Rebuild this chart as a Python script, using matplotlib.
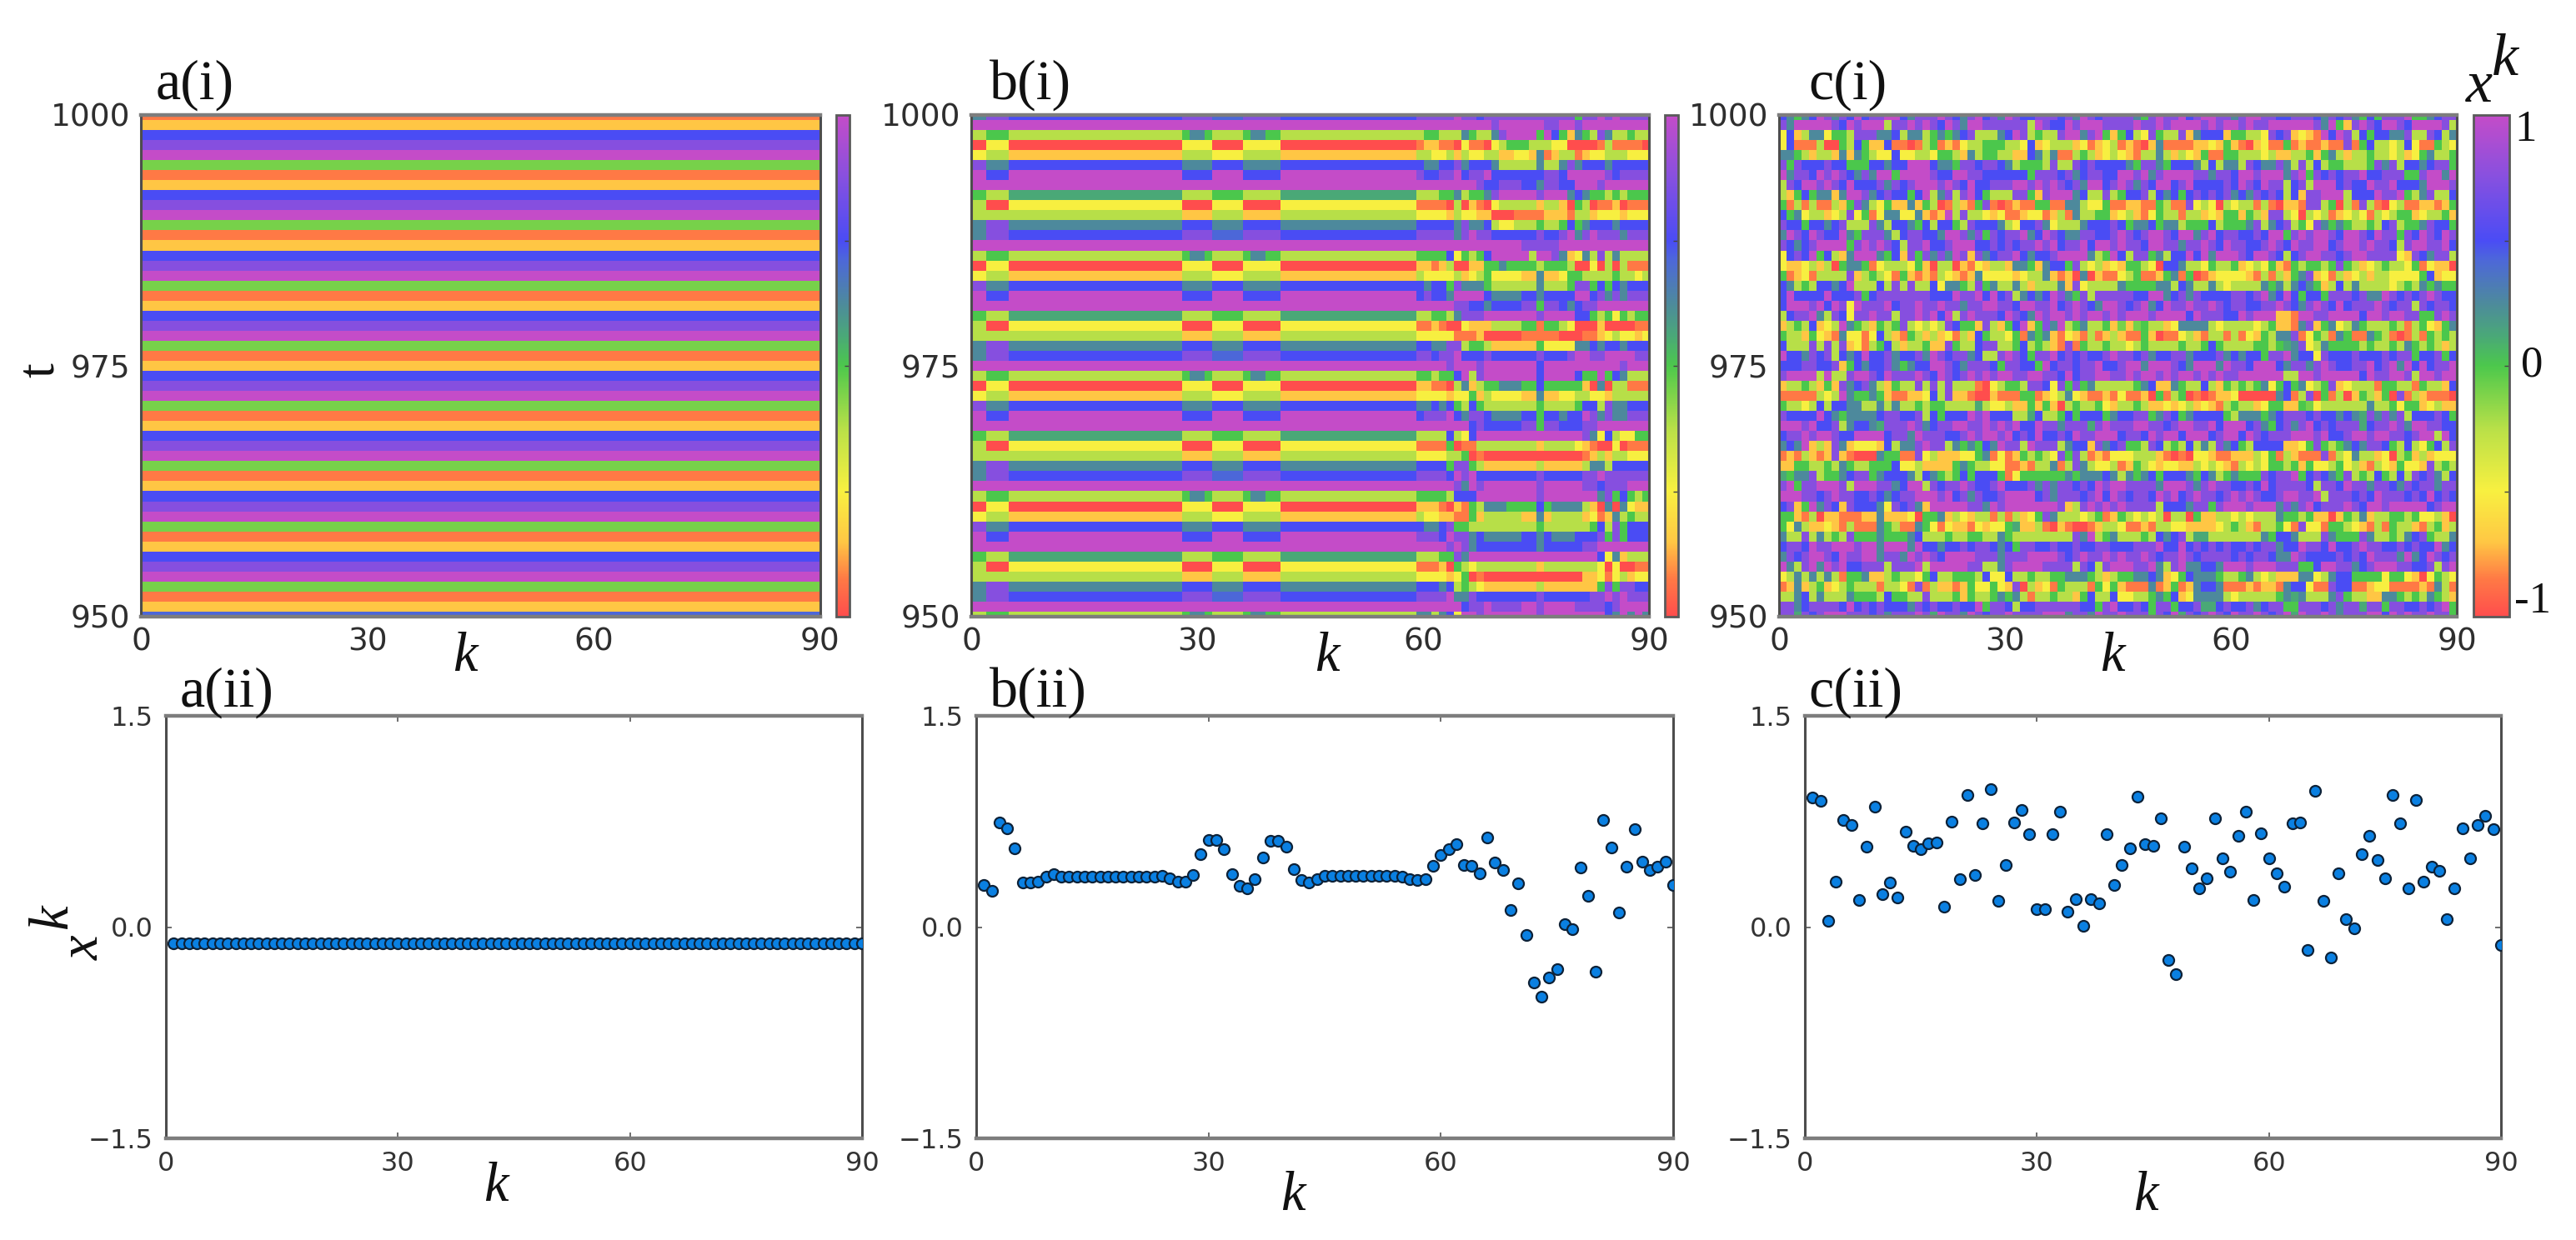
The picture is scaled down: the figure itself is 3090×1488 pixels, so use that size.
import numpy as np
import matplotlib
matplotlib.use('Agg')
import matplotlib.pyplot as plt
from matplotlib.colors import LinearSegmentedColormap


W, H = 3090, 1488

# colour levels used to note down the heatmap cells
levels = {'R': -1.0, 'O': -0.85, 'A': -0.7, 'Y': -0.5, 'L': -0.25, 'H': -0.1, 'G': 0.0,
          'S': 0.12, 'T': 0.25, 'C': 0.42, 'B': 0.5, 'P': 0.75, 'M': 1.0}

cmap_pos = [-1.0, -0.85, -0.7, -0.5, -0.25, 0.0, 0.12, 0.25, 0.42, 0.5, 0.75, 1.0]
cmap_col = ['#ff4d4d', '#ff7a45', '#ffc844', '#f8f040', '#b8e048', '#4cc84c',
            '#4aa878', '#4d8a9c', '#4d68d8', '#4a4cf5', '#8650e0', '#c44cc8']

x_ticks = [0, 30, 60, 90]
t_ticks = [950, 975, 1000]
t_labels = ['950', '975', '1000']
v_ticks = [-1.5, 0.0, 1.5]
v_labels = ['\u22121.5', '0.0', '1.5']

# a(i): every site the same, one column top to bottom
a_profile = 'OABPMHOABPMHOABPMHOABPMHOABPMHOABPMHOABPMHOABPMHOAC'

# b(i): k below 59 repeats every 12 rows
b_left = [
    'M' * 59,
    'LLGGG' + 'L' * 23 + 'GTTG' + 'LLLL' + 'GTTGG' + 'L' * 18,
    'RRYYY' + 'R' * 23 + 'YYYY' + 'RRRR' + 'YYYYY' + 'R' * 18,
    'YYLLL' + 'A' * 23 + 'LLLL' + 'YYYY' + 'LLLLL' + 'A' * 18,
    'PPTTT' + 'B' * 23 + 'TTTT' + 'BBBB' + 'TTTTT' + 'B' * 18,
    'MMBBB' + 'M' * 23 + 'BBBB' + 'MMMM' + 'BBBBB' + 'M' * 18,
    'M' * 59,
    'GGLLL' + 'S' * 23 + 'LLLL' + 'GGGG' + 'LLLLL' + 'S' * 18,
    'LLRRR' + 'Y' * 23 + 'RRRR' + 'YYYY' + 'RRRRR' + 'Y' * 18,
    'LLLLL' + 'L' * 23 + 'AAAA' + 'LLLL' + 'AAAAA' + 'L' * 18,
    'TTPPP' + 'T' * 23 + 'BBBB' + 'TTTT' + 'BBBBB' + 'T' * 18,
    'TTPPP' + 'B' * 23 + 'PPPP' + 'CCCC' + 'PPPPP' + 'B' * 18,
]

b_right = [
    'PPPPPMPPBPPPPPPPPPPPPGPPMPMPPPP',
    'MMMMMMMMMMPMMMMMMPPMMPMMMMMMMMM',
    'LGGLLLTGLLTPMMMMGMBGATGLPTLLGLL',
    'OAAOORYOORYLGGGLLLYYRRRROLOOOOR',
    'LLYYLALYYLLAAYYATOALLOAYYLLLYYY',
    'BTTBBPTBBBTLLLLLTLLTPTBBBTBBBBB',
    'PBBPPMBPPMBBBBBBBPPBMMMMMPBPPPP',
    'MMMMMMMMPBBPPPBBTPPBBMMMPMMMMMM',
    'LLLGGTLGGTPMMMMMPMMMTBTGGLGLGGG',
    'OOOORLRAORYLLLLLALLARGLROOAROOO',
    'YYYYALYYAARRROOOOAAAOLLAYYYAYYY',
    'BBBBBTPTTBLYYLLLGLLGBGTBBBTBBBB',
    'PPPPPTPMPPBBBBBBPBBPMTPMPPPTPPP',
    'MMMMMMMMMMMMMMPPPPPMMMMMMMMMMMM',
    'GGGGBYGLGBMMMMMLMMPTAYTLPLTLLLL',
    'AAOALRRAAGGTGGGGLGGGLRRYRLRLOOO',
    'LYYYYLAYLGYYYYAATAAYGGLLLLGLLYL',
    'BTBBGPTTTGLLLLLLTLLLGPPGBGBTBBB',
    'BPBBTMMMMBTTTTBBTBBBBMMBPTPTPPP',
    'MMMMMPPBBTBBBBPPGPPBTBPPMMMMMMM',
    'LLGGLTPPPMMMMMMMPMMMMBBGLGYGLGG',
    'OOAORRYAAALLLLGGOGGLYRRRARRRROO',
    'YYYYYOOOARRRRROOOOORRROOAYLYYAY',
    'BBTTPPLGGLAAAAAAGYYYYTTBTBBTBBB',
    'PPBPPMBBBPBBBBBBPBBBPMMPPMMMMPP',
    'MMMMPMMMPMMMMMMMBMMMMMMMMMMPMMM',
    'GGLGGBMLPMMMMMMMBMMMMBGGMGBTLLL',
    'AAOORLTALGGTTTGGBGGGGGARTRLLOOO',
    'YYYYAYYGALYYYYAATAAYYLLYYALLLLL',
    'TTBTBGLBGLLLLLLLGLLLLGBBLPTTBBB',
    'BPPPMBTPPBTTTTBBGBBTBBMPTPTTPPP',
    'MMMMMMMBPBBBBBPPGPPBBBPPMMMMMMM',
    'LLLLBLYBMMMMMMMMMMMMMMPTYBLYYGG',
    'OOOOGROOLLLLLLLLALLLLYAORRYROOO',
    'YYYYLLGRORRRRRRRRRRRRROALALLYYY',
    'BBBBGPPGLAAAAAAALAAAAALTTLBBBBB',
    'PPPPBMPMBBBBBBBBPBBBBBPPMPPPPPP',
    'MMMMMPTMPMMMMMMMPMMMMMPPBPPPMMM',
    'GGGGLBBBMMMMMMMMPMMMMMMMTPGBGLG',
    'AAAORAOGLTTTGGGGBGTTTTLARTRTYAA',
    'LYYAAOOGALLLLLAATALLLLAYOATLGLL',
    'BTTBPGGLLLLLLLLLGLLLLLLGBLPGBBB',
    'PPPBMPPTBTTTTTBBTBTTTBBBPGPGBBB',
    'MMMMPMPTBBBBBBBBTBBBBBPPMMMMMMM',
    'LLLGGPTMMMMMMMMMMMMMMMMMBYTALLL',
    'OOOARGLYLLLLLLLLALLLLLLLYRYRROO',
    'YYYYAYGRORRRRRRRRRRRRRAAYOYLAYY',
    'BBBTBLGLYAAAAAAALAAAAAAAGPGPPBB',
    'PPPPMTTPBBBBBBBBPBBBBBBPPMPMPPP',
    'MMMMMMBPPMPPPPMMPMMMMPPPPBPMMMM',
    'TTLTBYMMPMMMMMMMPMMMMMMMMBTMTMT',
]

# c(i): no repeat across sites, k 1-45 then k 46-90
c_left = [
    'BTGTBMPTPBMBPPMMBTPPPMPBTPMBPTMPBBPPPBPTMPBPP',
    'PTMMMMMPBMPMMMLPPMPMPBMPTMMPPPPPPLMPBBMPMMMPP',
    'YBALTTYGGLPPPTTBLTTLGTGTBPLLLTBMPLGLLPMMTPMGA',
    'YBOOOLRRGLBGAABOOROLGOAOYLLGGGLLYBAYLLLAYOAYL',
    'TTGLALLATATGLYYBYYLLYGGLATLGGLLAABTLTOOLGLAYL',
    'PGPBBBPBBGGGBBTBBMMMBTTGPPBPPBTLGGGLPLLPBPBBB',
    'MTPPBMPMPBTPTMMGMMMMPBBMMPPBBBBBBGPPPBPTBPPBB',
    'LPBMMPMPBMBBBPTPBPMMMPMPBMBBPPPMMPMPMPBPTMMBP',
    'LAGBGTTATMMPTBPBBGBMLTPLPMBGLLLPPGAPMMMTBLLPL',
    'GOLOLOOLAGPTLYGAATAGLROLAOGPOROAOOGGOOTTLYYGO',
    'BGTYLLAYLPYGOYTTYYTAOAMLPLLYAYOOAYYOALOTLLGGA',
    'PBBGBBTBPLLLPTLBBTGBLBBGLPBBBTLYBBPTYLLLTBBBP',
    'TMPBMPBBMTGPPPTLBPPBBTMMPTPGPBPPMTBMPBTTPPBBP',
    'PBTBPMMMMGPMPMPBLPPMBBPMMMBBPBPBPPMPMBPPMBMMP',
    'YBPBMGBLATMMMTGBAPGPTPTMPAPTBPPMBTBBPMMMMTLGM',
    'YAAYLALRGTTGOYLLLYGARLLRAOYALLATTGATBBGPLYLAY',
    'GOAYOLLLLPALGLYOGAOAOLYAOATYYYYAYLLTAOARTRAOO',
    'BTLGLBBTBMLLLBLPLPLLBYTTGLPGTLLTLALLLTAPYLLLL',
    'BMBBBBMBBBPGBPPPPPPPBBBMPPMBMBPLTBTBMPTGPLPPP',
    'BMMMPMBMPYMPPPMBPPMPPMPPTPPMMPPBMMPPMBPMPBTMM',
    'LBPPMTLPBYPPMPPLPPMPMBMLPMPPPBMPBTMPMMPMPMMPM',
    'ALGLBAYLMTGLAGLGPLYLYLPBGGAPLAGBMAGPTMLGTLLGA',
    'GLLAGYAOTYYOYBLAOGLALAYOLABGLLYGOTGTAOYAOLOAL',
    'BLLLPLPLPAYOLGBLALLGAAPGLLBPPLLGBLGLAOPOGLLGL',
    'MBBTPBPLBTBMBBPTBBPTMPBPPTBLLPMPBGPPMBPBPBBPM',
    'BBBPPBBPAGBTBBPTGTBBMMPBTPPPBGPPBBGMBPPBPPMBB',
    'PMMMMLMLLPMMPBMPPPMPBMPBPMPMPMMPPMMPPBMBPPMMP',
    'ALLGLAGAPTBPTLAGLLPLPLPLLLORYLGGLPPBYPGPGTLLL',
    'OOOOOLYLMTGGTGAOOAAYBLPAAORRAOOOGGOAYLTYAOOAO',
    'GLLYLBLBBTTLLTLTLLGLGGLLLLSLYYLAAGAGARLGLLGYA',
    'PBBBBMBTGTTTTBPPBBPLBGBBBMPMBBBLLSBLLGBGBBBGT',
    'MMMPMBBPLTBBTSPPPMPTBPPMMPPMPMPMBBMPPTPPPSPMP',
    'BPPMPMMPBBMMMMBPPTMPPPBBPMPMMPMBPBMBBPBMPPMMM',
    'TBTMALAPTAYYYABLTTPMPPLTGTGBTMPPLMPPPLTBBAPTB',
    'OAOLAOAPAORRRTGGOOPYLAAAYYGTOYOAGLGLYPGPLOAOY',
    'AAGGLLGLTGLLGGGBYYLAAAAGTGLLYYOOAOLLTOLPTLYYL',
    'SGTTPLGGTBPPGTBBBTLBTGLGBGBBBGOYGGGGGGTGTTTBT',
    'PMGPPMMMPLMMMPPTBMMLPBPPMPBBPMBBBPTPTPPBPBMPM',
    'MMMPPBPMPPBBPBTBPPMMMPMBPTPBBPMMMMBPTPPPBPMBM',
    'BPAGMTPBAPBBBTYPBPTAMMMMMPPTMPMMMMMMMPALPMPMP',
    'GGAOLRAAOOOAATAAAYRGGTALYALLOLOLAYGPTLLLYLGOAL',
    'GYTLAAYAOLOOOTGLOOTGYOYAAOYAYYGSAALORAORROALL',
    'TLLPLTLGLPGGGTGGGTBLLLGLLGGLLTGLLLLLLLLPTMLGT',
    'BPPBMPPMMMPMMTMMMTMBBTBBPBPPBTBGPPBBPBBPBBPPB',
    'TPBPMMPBMPPMMTPPTMPMPBMMMMPPPTPPPMMMMPBPMPPMP',
    'MTLPMTMPMBBPPPLPPPMLMMMMMPPLLTPMMMMPPPPLPBLPM',
    'YLTLTLTLOGGTAALGLLYGBLLGGGLBYYBLLGLLGGTTTGLAL',
    'OATALGAYLGLLLOLLYOPOLAAOAGYYGYAPRLAYOGLLLOGYG',
    'LLTBLTLLLTGGGLBGGLLPLLLGAGLLGTGTLOLLGLLAGBLLB',
    'PPTBPPPPBMBPBPBBBTPBPBBPBBMGPPBLBBPPPPPPBBGPM',
    'PPSPBPMMMPPPBPTPPPMPSMPPTMPBPPMPPPPMMMTPPTMPP',
]

c_right = [
    'PPTGPMPPMBPMMPPTPMMPPBBPPPBTPBPTGBGPPPMGGTBPP',
    'PPMPPMPMMMMPMPMMPMPPMMMMMMPTMGAPMPBMMPBMMMMPL',
    'GBLYPGLLPATBBBAGGLLYPBPAYAOMBMPLBGBBTTPLLPBLT',
    'OAORATOOOOAAYAGAORAYOOGOAOOAOOPOGBLLYLBYOOGLY',
    'YAOLLTLALYAGOOGGLLLYLAALLGAGTLALLGLLYLAYGTLLG',
    'BTGPPTGBBBTLBLTTLPBTTPTLPLBLGGLLLGPTPLBBTBPPG',
    'MMPMTPMMMMPPTPPBMMPMMMTPMGPBPBPPMBBPPPGGPMMTM',
    'MPTPBMMBPMBBBBPBMPBMPPLBPLMMMBPBBMPPMBBBTMMMP',
    'GBBPLBTBGBPBPBPTBTPBPBLBAPPMMMLBBBMPPMGLTPLLB',
    'OAAOOGLOOPYLYRLYLLOLORAAOPPLGRLOPLORYLOOAAOAG',
    'YLAOYGLLOLLAYAGGAGLAPPLYRLYLOAYLYOLYLGGAYLLGA',
    'BGTTBGTTLGGGBLGGGTPLTBPLGYPTGTGLLGLBPLGGTPBBG',
    'MPBPMMPBMMTPMBPPBBPBMMGPMPMMPBMMPBMPPGPBMPBMP',
    'MPPBMMPPTPPMPBMPPBBPMPBMPPMMBPMMPMPPBLPMMPPMB',
    'BLPPGTLBBMBMTMMMPBMMPBLBPMMPPBPMMPPPPYAPBTPPL',
    'AGGLYRBBTLLYGLLGAYLYGAOGLGGLGPGLAYLGLLYGOYAAR',
    'YLGOOAGTOGROAYYYYAOLOLAGTPAYOLAYLALLYYYYGBAYY',
    'TGGGGTTLBTLLTLYLLLLTGTLTBTGALBLTLLLLYLGLTGTGG',
    'PPBBMMTBPTPBBBBPPBPMTBMBGBBGPPPBPTTMPBPBPMPBB',
    'PBPMTBMPPMPPMPBPPBBPPMPBTPMPBMBPPPMPBPPLPBPPB',
    'PMMMPMMMMBMPPPBBMPMMMAAOMMPPMMMMBMMPMMPPGGPMP',
    'HAHGLLAYTTTTLYLLLLYLGAAOTPAGTYLTGLLLGLOLGYAGT',
    'AOOGAROOYLAOLLOLOYAGLTTPOYGLOTGOOTGLOROLOGLGL',
    'LYLGLLLLGLLGBGLLLLGGLGSTPYLTGGGGLGLLGLTGLGLAL',
    'PPBPTBBPPTBBBPTBTBBGPPMTBBYPBBBPBBBPBPPGBBPGB',
    'PMMTMMMPBTMMMTMPPBMMMBTPPTPMPBBPPMBPMTMBMBPPM',
    'PMPMMPMPMMPMPMPPMMMMMMLLMMPMMMMMBMPPMMPLMMPMM',
    'LLGTBAATGLLBLAGLGLGTYGBGTYLGPAYLLLOGGLLOGLLAB',
    'YOOARGOLGROROAAYRRRRRTBOLPRGOLRAGLAGRPOLAOOOR',
    'LLGLAAYAYLAYAOLGLLAYGGAAGHYLLLLLLTLLGYGGAYLAA',
    'BBPPGTPBGTBBBBGLTTTGTBPPPBPBBTBTSPTPTPLBBBPBG',
    'PPMMPPBPMMPPMBMMMBPTGBPTPMBPBPPPSBPPMPTMMPPBB',
    'BPPBMPMMBMMMBPMMBMPBPPPMMMPMBBPMMPMMPPBPMMLMB',
    'PGGLPBLGLBLTLPTBGLBBBBAAYGPGLGTBTPPBGLBLYGBLP',
    'YYLLLAORORYYAOOAAALYGOLAOOOPOLYTLLAYRLGALAYYY',
    'OAGLYAYYAALYLYAOLYLYGGLGAGYYLGYLAOLYAGYYAPLGL',
    'LTGTBGBBBTGBTLGTGGGPBPPMGBPBTGPLGLBGLBLPBPTLB',
    'MPPPPTMMMPTPMPPBBPBMBPPPPBLPPBMPPTPPBTPBPPTPP',
    'PBPPBMPMBPMPPBPMPMPBBPMMPPMLPPPBPBMPPPBPBMBPB',
    'MPPPPLBBBTPPGPMMMPMMMTPTPMBPPPMPBMMPMMMMMBPMM',
    'GLYLYLRLLRGAALLYLYLLLTGGLGAARAGLTALLGGLGYYLARL',
    'YOOAOLLYYAAAAYLGLAOLLGYOPYYOGGLYAOLOGLLAOLGAL',
    'LLLGLBTBPLSSLLLLLLLTGBBTLLLPTGGGPTLLGLTBPGLLT',
    'BBPPPMBBMBPBPBPBBPBPPTBBMPPBMBBPMPPBBPBPBBMTB',
    'MPPMPBPPMPBPPPPBPBPPBTTMPBBBBPBPBMPPPTMTBMPBP',
    'MMPPMTLPMTTBBTMMMPMMMPPPGGBMMPPTBPMMMPPBBPLPM',
    'GGTTBTAYGBTTTGLLGTLYLAAATTYLTBBGGGGYGGYARYGLYG',
    'AOOOTOAGOATBBTOOOAOAAOTBBYOOPBBOOAYYOOOOAOTLO',
    'YYLLGTGBAYTTTTLYLLLLLGTSTLLLTPGLLAATTGLGLTGLA',
    'BBPBGPPGBBPSSBPBBPTBPPGGPPPBPTPPSPPGPPBBPBPMGB',
    'MPPPGPBMSPBPMPBMPPMPBPMSMPPMPTPPPMMBMPMPPMPPG',
]

k_sites = np.arange(1, 91)
a_line = [-0.114] * 90
b_line = [0.30, 0.255, 0.745, 0.70, 0.56, 0.314, 0.314, 0.32, 0.358, 0.374,
          0.36, 0.356, 0.356, 0.356, 0.356, 0.356, 0.356, 0.356, 0.356, 0.356,
          0.356, 0.356, 0.36, 0.364, 0.348, 0.32, 0.32, 0.37, 0.517, 0.62,
          0.62, 0.553, 0.374, 0.293, 0.275, 0.338, 0.494, 0.61, 0.615, 0.569,
          0.413, 0.332, 0.317, 0.338, 0.366, 0.364, 0.364, 0.364, 0.364, 0.364,
          0.364, 0.364, 0.364, 0.364, 0.356, 0.34, 0.335, 0.343, 0.434, 0.512,
          0.553, 0.587, 0.442, 0.436, 0.379, 0.634, 0.46, 0.403, 0.119, 0.312,
          -0.055, -0.392, -0.496, -0.358, -0.30, 0.023, -0.016, 0.423, 0.223, -0.314,
          0.761, 0.564, 0.101, 0.429, 0.694, 0.462, 0.408, 0.431, 0.465, 0.296]
c_line = [0.922, 0.894, 0.042, 0.325, 0.761, 0.722, 0.192, 0.569, 0.855, 0.231,
          0.317, 0.213, 0.678, 0.579, 0.556, 0.595, 0.60, 0.143, 0.751, 0.343,
          0.935, 0.369, 0.735, 0.979, 0.184, 0.439, 0.74, 0.829, 0.662, 0.125,
          0.13, 0.657, 0.818, 0.109, 0.197, 0.01, 0.197, 0.171, 0.657, 0.296,
          0.439, 0.558, 0.927, 0.59, 0.574, 0.771, -0.231, -0.332, 0.569, 0.418,
          0.273, 0.345, 0.771, 0.486, 0.392, 0.649, 0.818, 0.192, 0.665, 0.488,
          0.384, 0.288, 0.735, 0.74, -0.164, 0.966, 0.184, -0.216, 0.384, 0.055,
          -0.01, 0.517, 0.649, 0.478, 0.348, 0.935, 0.735, 0.278, 0.901, 0.322,
          0.431, 0.397, 0.057, 0.273, 0.701, 0.486, 0.727, 0.787, 0.694, -0.13]

panel_labels = ['a(i)', 'b(i)', 'c(i)', 'a(ii)', 'b(ii)', 'c(ii)']


def decode(row, n):
    row = row.ljust(n, row[-1])[:n]
    return [levels[ch] for ch in row]


def make_axes(fig, x0, x1, y0, y1):
    return fig.add_axes([x0 / W, 1 - y1 / H, (x1 - x0) / W, (y1 - y0) / H])


def put_text(fig, x, y, s, **kw):
    return fig.text(x / W, 1 - y / H, s, **kw)


def style_frame(ax):
    for side in ['top', 'bottom']:
        ax.spines[side].set_color('#7d7d7d')
        ax.spines[side].set_linewidth(3.2)
    for side in ['left', 'right']:
        ax.spines[side].set_color('#4d4d4d')
        ax.spines[side].set_linewidth(2.2)


def draw_heat(fig, box, cbox, cells, cmap):
    ax = make_axes(fig, *box)
    im = ax.imshow(cells, cmap=cmap, vmin=-1, vmax=1, aspect='auto',
                   interpolation='nearest', extent=(0, 90, 949.5, 1000.5))
    ax.set_xlim(0, 90)
    ax.set_ylim(950, 1000)
    ax.set_xticks(x_ticks)
    ax.set_yticks(t_ticks)
    ax.set_yticklabels(t_labels)
    ax.tick_params(length=0, pad=9, labelsize=27, colors='#2e2e2e')
    style_frame(ax)
    cax = make_axes(fig, *cbox)
    cb = fig.colorbar(im, cax=cax, ticks=[-1, -0.5, 0, 0.5, 1])
    cb.ax.tick_params(length=4, width=1, direction='in', labelright=False, color='#444444')
    cb.outline.set_edgecolor('#5a5a5a')
    cb.outline.set_linewidth(2)
    return ax


def draw_line(fig, box, values):
    ax = make_axes(fig, *box)
    ax.scatter(k_sites, values, s=88, c='#0a80e2', edgecolors='#0e2238', linewidths=1.6, zorder=3)
    ax.set_xlim(0, 90)
    ax.set_ylim(-1.5, 1.5)
    ax.set_xticks(x_ticks)
    ax.set_yticks(v_ticks)
    ax.set_yticklabels(v_labels)
    ax.tick_params(direction='in', length=5, width=1.2, top=True, right=True, pad=11,
                   labelsize=23, color='#555555', labelcolor='#333333')
    style_frame(ax)
    return ax


def main():
    cmap = LinearSegmentedColormap.from_list(
        'xk', [((p + 1) / 2, c) for p, c in zip(cmap_pos, cmap_col)], N=512)

    a_cells = np.array([[levels[ch]] * 90 for ch in a_profile])
    b_cells = np.array([decode(b_left[(i - 1) % 12], 59) + decode(r, 31) for i, r in enumerate(b_right)])
    c_cells = np.array([decode(l, 45) + decode(r, 45) for l, r in zip(c_left, c_right)])

    fig = plt.figure(figsize=(W / 100, H / 100), dpi=100, facecolor='white')

    draw_heat(fig, (169, 984, 138, 740), (1003, 1019, 138, 740), a_cells, cmap)
    draw_heat(fig, (1165, 1978, 138, 740), (1997, 2013, 138, 740), b_cells, cmap)
    draw_heat(fig, (2134, 2947, 138, 740), (2967, 3010, 138, 740), c_cells, cmap)

    draw_line(fig, (199, 1034, 859, 1366), a_line)
    draw_line(fig, (1171, 2007, 859, 1366), b_line)
    draw_line(fig, (2165, 3000, 859, 1366), c_line)

    serif = 'Liberation Serif'
    label_x = [187, 1187, 2169, 216, 1187, 2169]
    label_y = [119, 119, 119, 848, 848, 848]
    for s, x, y in zip(panel_labels, label_x, label_y):
        put_text(fig, x, y, s, family=serif, fontsize=49, color='#111111', va='baseline', ha='left')

    for x, y in [(558, 805), (1592, 805), (2534, 805), (595, 1441), (1551, 1452), (2574, 1452)]:
        put_text(fig, x, y, 'k', family=serif, style='italic', fontsize=48, color='#111111',
                 va='baseline', ha='center')

    put_text(fig, 49, 444, 't', family=serif, fontsize=46, rotation=90, color='#111111',
             va='center', ha='center')

    # x^k beside a(ii) and above the last colour bar, x and k placed separately like the original
    put_text(fig, 101, 1137, 'x', family=serif, style='italic', fontsize=48, rotation=90,
             color='#111111', va='center', ha='center')
    put_text(fig, 64, 1100, 'k', family=serif, style='italic', fontsize=48, rotation=90,
             color='#111111', va='center', ha='center')
    put_text(fig, 2974, 122, 'x', family=serif, style='italic', fontsize=52, color='#111111',
             va='baseline', ha='center')
    put_text(fig, 3005, 90, 'k', family=serif, style='italic', fontsize=52, color='#111111',
             va='baseline', ha='center')

    for s, x, y in [('1', 3030, 156), ('0', 3037, 439), ('-1', 3038, 722)]:
        put_text(fig, x, y, s, family=serif, fontsize=38, color='#111111', va='center', ha='center')

    fig.savefig('out.png', dpi=100, facecolor='white')
    plt.close(fig)


if __name__ == '__main__':
    main()
